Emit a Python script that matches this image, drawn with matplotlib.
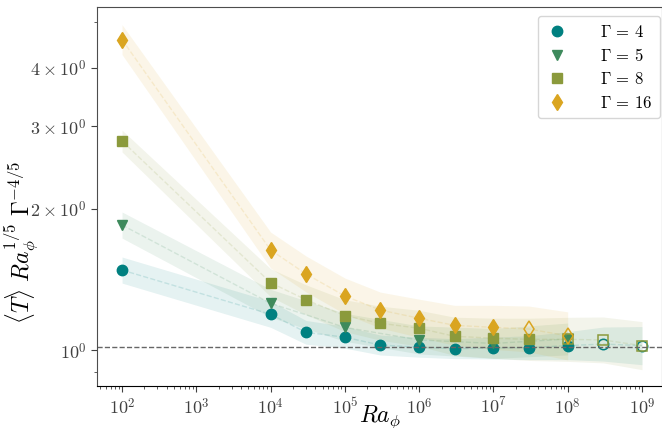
import numpy as np
import matplotlib
matplotlib.use("Agg")
import matplotlib.pyplot as plt
from matplotlib.ticker import FixedLocator, NullFormatter, LogLocator

plt.rcParams['mathtext.fontset'] = 'cm'
plt.rcParams['font.family'] = 'serif'
plt.rcParams['font.serif'] = ['cmr10', 'DejaVu Serif']
plt.rcParams['axes.formatter.use_mathtext'] = True

# Ra_phi values and compensated temperature for each aspect ratio
ra_g4 = [1e2, 1e4, 3e4, 1e5, 3e5, 1e6, 3e6, 1e7, 3e7, 1e8, 3e8, 1e9]
t_g4 = [1.483, 1.194, 1.093, 1.067, 1.027, 1.016, 1.009, 1.012, 1.014, 1.024, 1.032, 1.024]
err_g4 = [0.066, 0.066, 0.060, 0.055, 0.050, 0.050, 0.050, 0.055, 0.060, 0.071, 0.087, 0.098]
open_g4 = [False] * 10 + [True, True]

ra_g5 = [1e2, 1e4, 1e5, 1e6, 1e7, 1e8]
t_g5 = [1.849, 1.26, 1.12, 1.053, 1.035, 1.058]
err_g5 = [0.066, 0.071, 0.071, 0.071, 0.076, 0.081]
open_g5 = [False] * 6

ra_g8 = [1e2, 1e4, 3e4, 1e5, 3e5, 1e6, 3e6, 1e7, 3e7, 1e8, 3e8, 1e9]
t_g8 = [2.791, 1.394, 1.282, 1.186, 1.143, 1.115, 1.072, 1.062, 1.056, 1.056, 1.053, 1.024]
err_g8 = [0.055, 0.071, 0.076, 0.081, 0.087, 0.092, 0.098, 0.103, 0.109, 0.114, 0.119, 0.125]
open_g8 = [False] * 9 + [True, True, True]

ra_g16 = [1e2, 1e4, 3e4, 1e5, 3e5, 1e6, 3e6, 1e7, 3e7, 1e8]
t_g16 = [4.588, 1.636, 1.455, 1.306, 1.219, 1.171, 1.131, 1.120, 1.111, 1.074]
err_g16 = [0.076, 0.092, 0.092, 0.092, 0.092, 0.098, 0.103, 0.114, 0.119, 0.125]
open_g16 = [False] * 8 + [True, True]

labels = [r'$\Gamma\,=\,4$', r'$\Gamma\,=\,5$', r'$\Gamma\,=\,8$', r'$\Gamma\,=\,16$']
colors = ['#008080', '#3e8a5c', '#8b9a3c', '#daa520']
markers = ['o', 'v', 's', 'd']
msizes = [7.5, 7.5, 7.5, 8.5]
ref_level = 1.015

series = [(ra_g4, t_g4, err_g4, open_g4),
          (ra_g5, t_g5, err_g5, open_g5),
          (ra_g8, t_g8, err_g8, open_g8),
          (ra_g16, t_g16, err_g16, open_g16)]

fig = plt.figure(figsize=(6.62, 4.28), dpi=100)
ax = fig.add_axes([0.1465, 0.098, 0.8535, 0.8845])

for (ra, t, err, hollow), lab, c, m, ms in zip(series, labels, colors, markers, msizes):
    ra = np.array(ra)
    t = np.array(t)
    e = 1 + np.array(err)
    ax.fill_between(ra, t / e, t * e, color=c, alpha=0.1, lw=0)
    ax.plot(ra, t, '--', color=c, alpha=0.15, lw=1)
    hollow = np.array(hollow)
    ax.plot(ra[~hollow], t[~hollow], m, color=c, ms=ms, mec=c, ls='none', label=lab)
    if hollow.any():
        ax.plot(ra[hollow], t[hollow], m, mfc='none', mec=c, ms=ms, mew=1.1, ls='none')

ax.axhline(ref_level, color='0.4', ls='--', lw=1)

ax.set_xscale('log')
ax.set_yscale('log')
ax.set_xlim(46, 1.86e9)
ax.set_ylim(0.84, 5.37)

ax.xaxis.set_major_locator(FixedLocator([1e2, 1e3, 1e4, 1e5, 1e6, 1e7, 1e8, 1e9]))
ax.xaxis.set_minor_locator(LogLocator(base=10, subs=np.arange(2, 10), numticks=20))
ax.xaxis.set_minor_formatter(NullFormatter())
ax.set_xticklabels([r'$10^{%d}$' % k for k in range(2, 10)])

ax.yaxis.set_major_locator(FixedLocator([1, 2, 3, 4]))
ax.set_yticklabels([r'$10^{0}$', r'$2\times10^{0}$', r'$3\times10^{0}$', r'$4\times10^{0}$'])
ax.yaxis.set_minor_locator(FixedLocator([0.9, 5]))
ax.yaxis.set_minor_formatter(NullFormatter())

ax.tick_params(which='both', direction='out', labelsize=13, colors='0.25')
ax.tick_params(which='major', length=4)
ax.tick_params(which='minor', length=2.5)
for s in ax.spines.values():
    s.set_color('0.3')
ax.spines['bottom'].set_color('black')

ax.set_xlabel(r'$Ra_\phi$', fontsize=17)
ax.xaxis.set_label_coords(0.5, -0.046)
ax.xaxis.label.set_va('top')
ax.set_ylabel(r'$\langle T\rangle\ Ra_\phi^{1/5}\ \Gamma^{-4/5}$', fontsize=17)
ax.yaxis.set_label_coords(-0.136, 0.38)
ax.yaxis.label.set_va('center')

ax.legend(loc='upper right', bbox_to_anchor=(0.9965, 0.9775), borderaxespad=0,
          fontsize=12, handletextpad=1.9, borderpad=0.45,
          labelspacing=0.44, handlelength=1.4)

fig.savefig('out.png', dpi=100)
